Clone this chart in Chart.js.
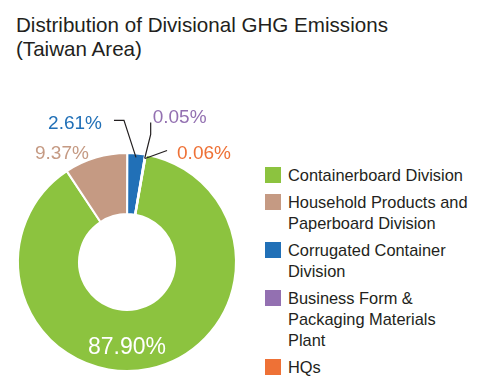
<!DOCTYPE html>
<html>
<head>
<meta charset="utf-8">
<script src="https://cdn.jsdelivr.net/npm/chart.js@4/dist/chart.umd.min.js"></script>
<style>
  html, body { margin:0; padding:0; background:#fff; }
  body { width:488px; height:390px; position:relative; overflow:hidden;
         font-family:"Liberation Sans", Arial, sans-serif; color:#231f20; }
  #title { position:absolute; left:16px; top:13px; font-size:20.6px; line-height:23.5px; }
  #wrap { position:absolute; left:0; top:90px; width:260px; height:300px; }
  #legend { position:absolute; left:265px; top:165px; list-style:none; margin:0; padding:0; }
  #legend li { position:relative; padding-left:23px; font-size:16.4px; line-height:21px; margin-bottom:6px; white-space:pre-line; }
  #legend li span { position:absolute; left:0; top:2px; width:16px; height:16px; }
</style>
</head>
<body>
<div id="title">Distribution of Divisional GHG Emissions<br>(Taiwan Area)</div>
<div id="wrap"><canvas id="chart"></canvas></div>
<ul id="legend"></ul>
<script>
const divisions = [
  "Containerboard Division",
  "Household Products and\nPaperboard Division",
  "Corrugated Container\nDivision",
  "Business Form &\nPackaging Materials\nPlant",
  "HQs"
];
const shares = [87.90, 9.37, 2.61, 0.05, 0.06];
const colors = ["#8cc33f", "#c59a83", "#2170b7", "#9370b1", "#ee7136"];

// where each percentage label sits relative to the slice's outer edge point
const callouts = [
  { inside:true },
  { dx:-8, dy:-8 },
  { line:true, bend:[-12,-37], end:[-22,-37], gap:12, align:"right" },
  { line:true, bend:[6,-24], end:[6,-36], gap:2, align:"left" },
  { line:true, bend:[22,-8], end:[22,-8], gap:10, align:"left" }
];

const calloutPlugin = {
  id:"callouts",
  afterDatasetsDraw(chart){
    const ctx = chart.ctx;
    const meta = chart.getDatasetMeta(0);
    meta.data.forEach((arc, i)=>{
      const p = arc.getProps(["x","y","startAngle","endAngle","outerRadius","innerRadius"], true);
      const mid = (p.startAngle + p.endAngle) / 2;
      const c = callouts[i];
      const text = shares[i].toFixed(2) + "%";
      ctx.save();
      ctx.textBaseline = "middle";
      if(c.inside){
        ctx.fillStyle = "#fff";
        ctx.font = "23px 'Liberation Sans', Arial, sans-serif";
        ctx.textAlign = "center";
        ctx.fillText(text, p.x, p.y + p.outerRadius - 23);
      } else {
        const ax = p.x + Math.cos(mid) * (p.outerRadius - 4);
        const ay = p.y + Math.sin(mid) * (p.outerRadius - 4);
        ctx.font = "19px 'Liberation Sans', Arial, sans-serif";
        ctx.fillStyle = colors[i];
        if(c.line){
          const bx = ax + c.bend[0], by = ay + c.bend[1];
          const ex = ax + c.end[0], ey = ay + c.end[1];
          ctx.strokeStyle = "#231f20";
          ctx.lineWidth = 1.2;
          ctx.beginPath();
          ctx.moveTo(ax, ay);
          ctx.lineTo(bx, by);
          ctx.lineTo(ex, ey);
          ctx.stroke();
          ctx.textAlign = c.align;
          const tx = ex + (c.align === "right" ? -c.gap : c.gap);
          const ty = i === 3 ? ey - 5 : ey + 3;
          ctx.fillText(text, tx, ty);
        } else {
          ctx.textAlign = "right";
          ctx.fillText(text, ax + c.dx, ay + c.dy);
        }
      }
      ctx.restore();
    });
  }
};

new Chart(document.getElementById("chart"), {
  type:"doughnut",
  data:{
    labels:divisions,
    datasets:[{
      data:shares,
      backgroundColor:colors,
      borderColor:"#fff",
      borderWidth:2
    }]
  },
  options:{
    responsive:true,
    maintainAspectRatio:false,
    animation:false,
    rotation:10,
    cutout:"44%",
    layout:{ padding:{ left:17, right:23, top:62, bottom:18 } },
    plugins:{ legend:{ display:false }, tooltip:{ enabled:false } }
  },
  plugins:[calloutPlugin]
});

document.getElementById("legend").innerHTML =
  divisions.map((d,i)=>`<li><span style="background:${colors[i]}"></span>${d}</li>`).join("");
</script>
</body>
</html>
